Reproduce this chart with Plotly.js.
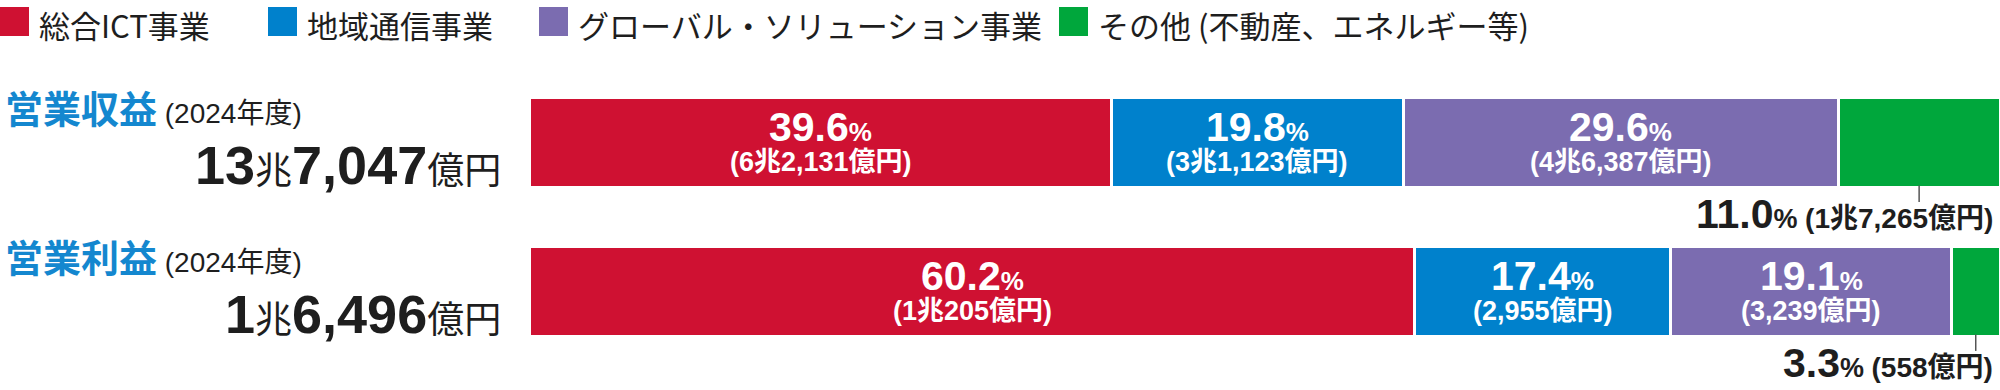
<!DOCTYPE html>
<html><head><meta charset="utf-8">
<script src="https://cdn.plot.ly/plotly-3.0.1.min.js"></script>
<style>html,body{margin:0;padding:0;background:#fff;}#chart{width:2000px;height:390px;}</style>
</head><body><div id="chart"></div>
<script>
// ---- data ----
const categories = ['営業収益', '営業利益'];
const periodLabel = '(2024年度)';
const totals = ['13兆7,047億円', '1兆6,496億円'];
const segments = ['総合ICT事業', '地域通信事業', 'グローバル・ソリューション事業', 'その他 (不動産、エネルギー等)'];
const revenueShare = [39.6, 19.8, 29.6, 11.0];
const revenueAmount = ['6兆2,131億円', '3兆1,123億円', '4兆6,387億円', '1兆7,265億円'];
const profitShare = [60.2, 17.4, 19.1, 3.3];
const profitAmount = ['1兆205億円', '2,955億円', '3,239億円', '558億円'];

// ---- styles ----
const colors = ['#CF1132', '#0081CC', '#7B6CB0', '#00A73C'];
const titleBlue = '#1487CF';
const ink = '#1E1E1E';
const NUM = '"Liberation Sans", "Noto Sans CJK JP", sans-serif';
const CJK = '"Noto Sans CJK JP", sans-serif';
const W = 2000, H = 390;
const legendX = [0, 268, 539, 1059];
const barWidth = 0.604;

const shares = [revenueShare, profitShare];
const amounts = [revenueAmount, profitAmount];

const traces = segments.map((name, i) => ({
  type: 'bar', orientation: 'h', name: name,
  y: categories, x: shares.map(s => s[i]),
  width: barWidth,
  marker: {color: colors[i], line: {color: '#ffffff', width: 3}},
  hoverinfo: 'skip', showlegend: false
}));

const annotations = [];
const shapes = [];

// legend
segments.forEach((name, i) => {
  shapes.push({type: 'rect', xref: 'paper', yref: 'paper',
    x0: legendX[i] / W, x1: (legendX[i] + 29) / W, y0: 1 - 7 / H, y1: 1 - 36 / H,
    fillcolor: colors[i], line: {width: 0}});
  annotations.push({xref: 'paper', yref: 'paper', x: (legendX[i] + 37) / W, y: 1,
    xanchor: 'left', yanchor: 'top', showarrow: false, text: name,
    font: {family: CJK, size: 31, color: ink}});
});

categories.forEach((cat, r) => {
  // title + period
  annotations.push({xref: 'paper', yref: 'y', x: 3 / W, y: cat, yshift: 32,
    xanchor: 'left', yanchor: 'middle', showarrow: false,
    text: '<b><span style="color:' + titleBlue + ';font-size:38px">' + cat + '</span></b> ' + periodLabel,
    font: {family: NUM, size: 28, color: ink}});
  // total
  annotations.push({xref: 'paper', yref: 'y', x: 503 / W, y: cat, yshift: -22.5,
    xanchor: 'right', yanchor: 'middle', showarrow: false,
    text: totals[r].replace(/[0-9,]+/g, m => '<b><span style="font-size:54px">' + m + '</span></b>'),
    font: {family: NUM, size: 37, color: ink}});
  // segment labels
  let start = 0;
  shares[r].forEach((v, i) => {
    const mid = start + v / 2;
    start += v;
    if (v >= 15) {
      annotations.push({xref: 'x', yref: 'y', x: mid, y: cat, yshift: 15.5,
        xanchor: 'center', yanchor: 'middle', showarrow: false,
        text: '<b>' + v.toFixed(1) + '<span style="font-size:26px">%</span></b>',
        font: {family: NUM, size: 41, color: '#ffffff'}});
      annotations.push({xref: 'x', yref: 'y', x: mid, y: cat, yshift: -20,
        xanchor: 'center', yanchor: 'middle', showarrow: false,
        text: '<b>(' + amounts[r][i] + ')</b>',
        font: {family: NUM, size: 27, color: '#ffffff'}});
    } else {
      shapes.push({type: 'line', xref: 'x', yref: 'y', x0: mid, x1: mid,
        y0: r + barWidth / 2 - 0.01, y1: r + barWidth / 2 + 0.1,
        line: {color: '#555555', width: 1.5}});
      annotations.push({xref: 'paper', yref: 'y', x: 1995 / W, y: cat, yshift: -71.5,
        xanchor: 'right', yanchor: 'middle', showarrow: false,
        text: '<b>' + v.toFixed(1) + '<span style="font-size:27px">% </span><span style="font-size:28px">(' + amounts[r][i] + ')</span></b>',
        font: {family: NUM, size: 41, color: ink}});
    }
  });
});

const layout = {
  width: W, height: H,
  margin: {l: 0, r: 0, t: 0, b: 0},
  paper_bgcolor: '#ffffff', plot_bgcolor: '#ffffff',
  barmode: 'stack', bargap: 0,
  showlegend: false,
  xaxis: {range: [0, 100], domain: [0.2648, 1], visible: false, fixedrange: true},
  yaxis: {type: 'category', categoryorder: 'array', categoryarray: categories,
    range: [1.6644, -0.953], visible: false, fixedrange: true},
  annotations: annotations,
  shapes: shapes
};

Plotly.newPlot('chart', traces, layout, {displayModeBar: false, staticPlot: true});
</script>
</body></html>
